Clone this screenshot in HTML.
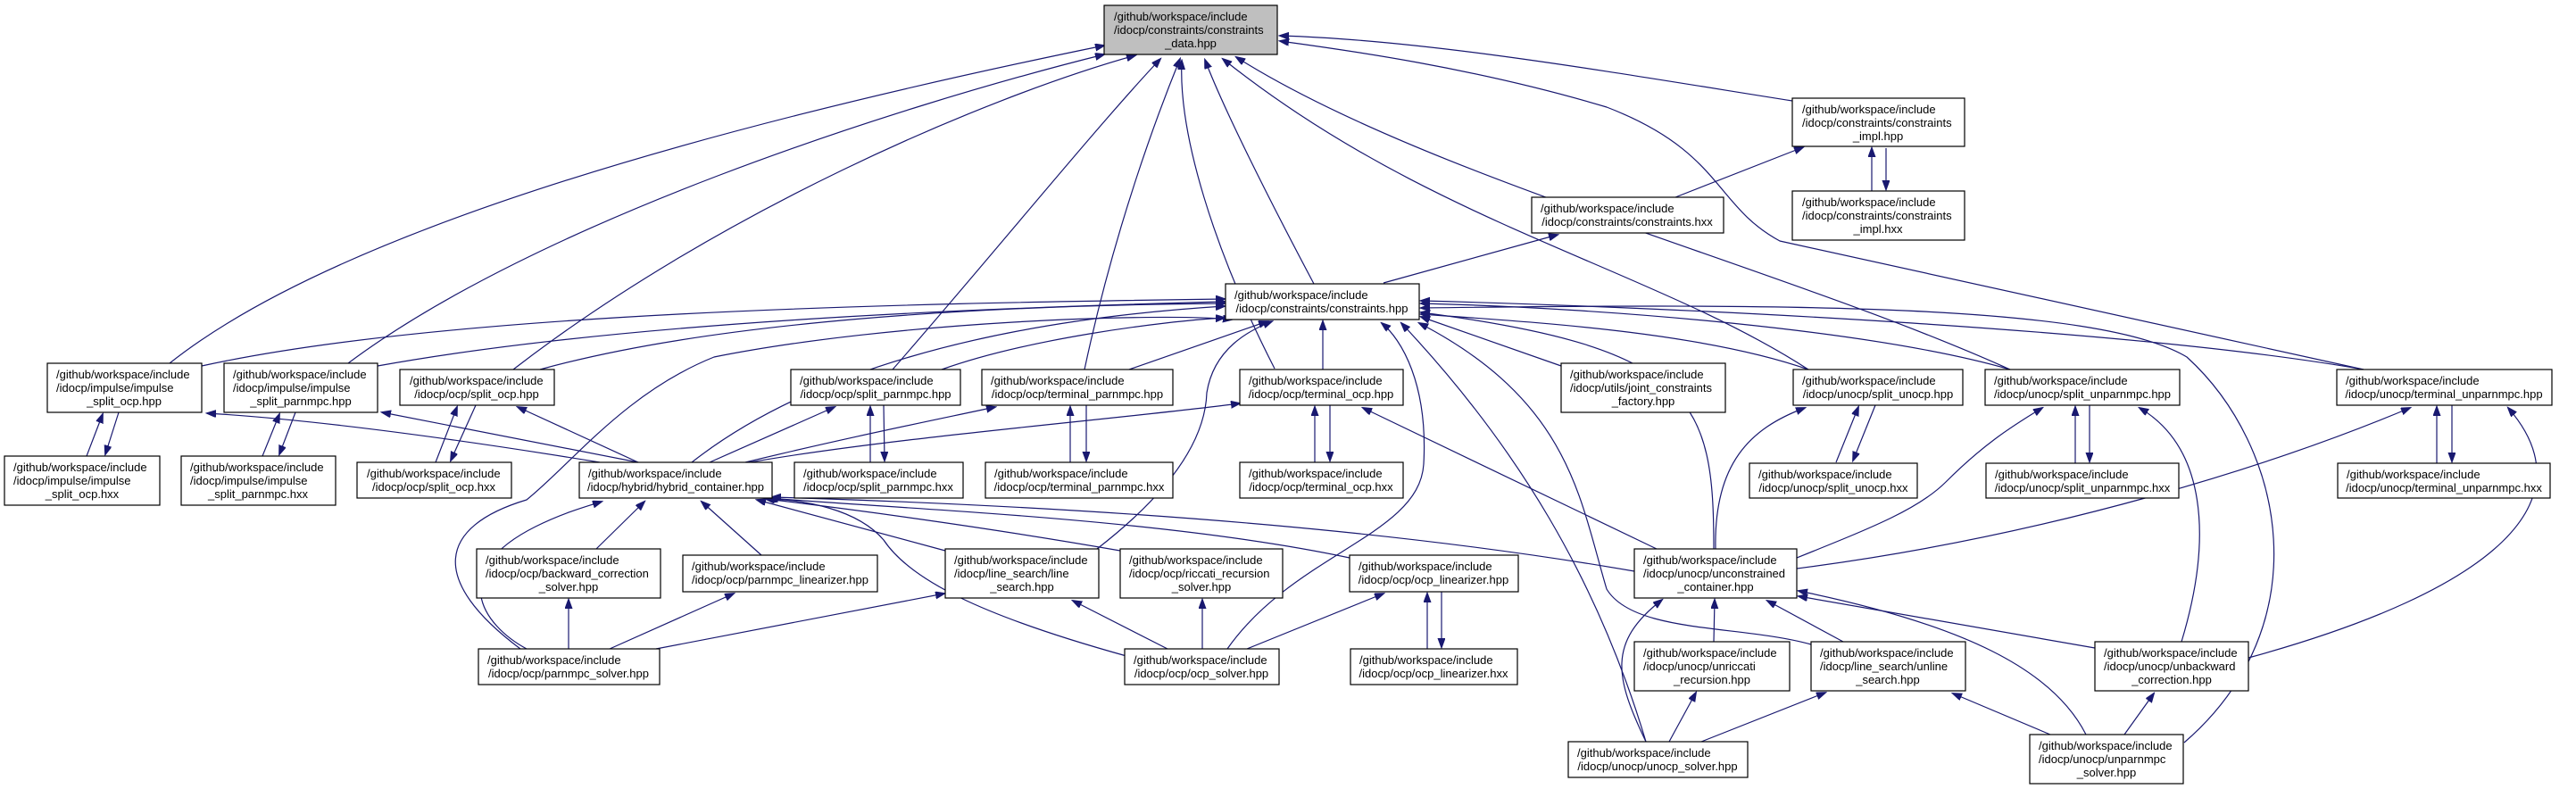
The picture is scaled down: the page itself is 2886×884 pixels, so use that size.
<!DOCTYPE html>
<html><head><meta charset="utf-8"><style>
html,body{margin:0;padding:0;background:#fff;}
svg{display:block;}
text{font-family:"Liberation Sans",Arial,sans-serif;font-size:13px;fill:#000;}
.e{fill:none;stroke:#191970;stroke-width:1.2;marker-end:url(#a);}
.n{fill:#fff;stroke:#000;stroke-width:1.2;}
</style></head><body>
<svg width="2886" height="884" viewBox="0 0 2886 884" xmlns="http://www.w3.org/2000/svg">
<defs><marker id="a" markerUnits="userSpaceOnUse" markerWidth="12" markerHeight="10" refX="10" refY="4" orient="auto"><path d="M0,0 L11,4 L0,8 z" fill="#191970" stroke="#191970"/></marker></defs>
<g>
<path class="e" d="M190,407 C400,240 900,120 1237,51"/>
<path class="e" d="M390,407 C600,250 1000,120 1237,61"/>
<path class="e" d="M575,414 C800,240 1100,110 1272,62"/>
<path class="e" d="M1000,414 C1100,300 1230,140 1300,66"/>
<path class="e" d="M1215,414 C1250,250 1300,120 1322,66"/>
<path class="e" d="M1428,413 C1360,280 1320,150 1324,68"/>
<path class="e" d="M1472,318 C1420,220 1370,120 1350,67"/>
<path class="e" d="M2026,414 C1850,300 1600,250 1370,66"/>
<path class="e" d="M2252,414 C2000,300 1600,200 1385,64"/>
<path class="e" d="M2648,414 L1994,270 C1920,230 1930,170 1800,120 C1650,75 1500,55 1434,46"/>
<path class="e" d="M2008,113 C1800,80 1600,45 1434,40"/>
<path class="e" d="M1550,317 L1745,263"/>
<path class="e" d="M1877,221 L2020,165"/>
<path class="e" d="M2097,214 L2097,166"/>
<path class="e" d="M2113,166 L2113,212"/>
<path class="e" d="M226,410 C500,350 1000,340 1372,335"/>
<path class="e" d="M423,410 C700,360 1100,345 1372,338"/>
<path class="e" d="M605,414 C800,360 1100,342 1372,340"/>
<path class="e" d="M1055,414 C1150,380 1300,360 1372,356"/>
<path class="e" d="M1265,414 L1420,360"/>
<path class="e" d="M775,518 C900,420 1100,360 1372,343"/>
<path class="e" d="M1482,414 L1482,360"/>
<path class="e" d="M583,727 C480,650 490,590 590,560 C640,520 700,440 800,400 C1000,360 1300,350 1380,358"/>
<path class="e" d="M1229,615 C1300,560 1350,500 1352,440 C1360,390 1400,370 1425,360"/>
<path class="e" d="M1375,727 C1450,620 1590,600 1595,520 C1600,430 1570,380 1548,362"/>
<path class="e" d="M1844,831 C1790,650 1700,500 1570,362"/>
<path class="e" d="M2029,722 C1950,700 1830,710 1800,660 C1770,560 1760,450 1590,362"/>
<path class="e" d="M2447,832 C2600,700 2560,500 2450,400 C2350,340 2000,340 1592,345"/>
<path class="e" d="M1749,410 L1592,355"/>
<path class="e" d="M2026,414 C1900,370 1700,360 1592,352"/>
<path class="e" d="M2252,414 C2100,370 1800,345 1592,340"/>
<path class="e" d="M2648,414 C2400,370 1900,345 1592,337"/>
<path class="e" d="M1920,615 C1920,450 1900,390 1592,350"/>
<path class="e" d="M668,615 L722,562"/>
<path class="e" d="M853,622 L786,562"/>
<path class="e" d="M590,727 C540,700 500,640 600,590 C630,575 655,568 674,562"/>
<path class="e" d="M1059,617 L848,560"/>
<path class="e" d="M1255,617 C1100,590 950,570 858,559"/>
<path class="e" d="M1512,625 C1300,580 1000,570 862,558"/>
<path class="e" d="M1831,640 C1600,600 1300,570 865,557"/>
<path class="e" d="M1262,735 C1100,690 1020,650 990,605 C960,570 900,560 860,559"/>
<path class="e" d="M672,518 C500,490 350,470 232,463"/>
<path class="e" d="M715,518 L428,462"/>
<path class="e" d="M715,518 L580,456"/>
<path class="e" d="M795,518 L935,456"/>
<path class="e" d="M835,518 C950,490 1050,470 1115,456"/>
<path class="e" d="M840,518 C1000,490 1250,470 1389,452"/>
<path class="e" d="M97,511 L115,464"/><path class="e" d="M133,462 L118,509"/>
<path class="e" d="M294,511 L313,464"/><path class="e" d="M331,462 L313,509"/>
<path class="e" d="M488,518 L512,456"/><path class="e" d="M533,454 L505,516"/>
<path class="e" d="M975,518 L975,456"/><path class="e" d="M990,454 L991,516"/>
<path class="e" d="M1199,518 L1199,456"/><path class="e" d="M1217,454 L1217,516"/>
<path class="e" d="M1473,518 L1473,456"/><path class="e" d="M1490,454 L1490,516"/>
<path class="e" d="M2057,518 L2082,456"/><path class="e" d="M2101,454 L2076,516"/>
<path class="e" d="M2325,519 L2325,456"/><path class="e" d="M2341,454 L2341,517"/>
<path class="e" d="M2730,519 L2730,456"/><path class="e" d="M2747,454 L2747,517"/>
<path class="e" d="M1599,727 L1599,665"/><path class="e" d="M1615,663 L1615,725"/>
<path class="e" d="M1922,615 C1920,520 1960,480 2022,457"/>
<path class="e" d="M2013,625 C2100,590 2150,570 2180,540 C2220,500 2250,480 2288,457"/>
<path class="e" d="M2013,637 C2300,600 2550,520 2700,457"/>
<path class="e" d="M1856,615 L1527,457"/>
<path class="e" d="M1920,719 L1921,672"/>
<path class="e" d="M2065,719 L1980,673"/>
<path class="e" d="M1844,831 C1810,760 1800,720 1862,672"/>
<path class="e" d="M2337,823 C2300,750 2200,700 2015,662"/>
<path class="e" d="M2347,726 L2015,668"/>
<path class="e" d="M1870,831 L1900,776"/>
<path class="e" d="M1906,831 L2045,776"/>
<path class="e" d="M2297,823 L2188,777"/>
<path class="e" d="M2380,823 L2413,777"/>
<path class="e" d="M2444,719 C2480,600 2470,500 2397,457"/>
<path class="e" d="M2519,737 C2800,660 2900,560 2810,457"/>
<path class="e" d="M1347,727 L1347,672"/>
<path class="e" d="M1397,727 L1550,665"/>
<path class="e" d="M1308,727 L1202,673"/>
<path class="e" d="M637,727 L637,672"/>
<path class="e" d="M683,727 L822,665"/>
<path class="e" d="M735,727 L1058,665"/>
</g>
<g>
<rect x="1237" y="6" width="194" height="55" style="fill:#bfbfbf;stroke:#000;stroke-width:1.2"/>
<text x="1248" y="23">/github/workspace/include</text><text x="1248" y="38">/idocp/constraints/constraints</text><text x="1334" y="53" text-anchor="middle">_data.hpp</text>

<rect class="n" x="2008" y="110" width="193" height="54"/>
<text x="2019" y="127">/github/workspace/include</text><text x="2019" y="142">/idocp/constraints/constraints</text><text x="2104" y="157" text-anchor="middle">_impl.hpp</text>

<rect class="n" x="2008" y="214" width="193" height="55"/>
<text x="2019" y="231">/github/workspace/include</text><text x="2019" y="246">/idocp/constraints/constraints</text><text x="2104" y="261" text-anchor="middle">_impl.hxx</text>

<rect class="n" x="1716" y="221" width="215" height="40"/>
<text x="1726" y="238">/github/workspace/include</text><text x="1823" y="253" text-anchor="middle">/idocp/constraints/constraints.hxx</text>

<rect class="n" x="1373" y="318" width="217" height="40"/>
<text x="1383" y="335">/github/workspace/include</text><text x="1481" y="350" text-anchor="middle">/idocp/constraints/constraints.hpp</text>

<rect class="n" x="53" y="407" width="173" height="55"/>
<text x="63" y="424">/github/workspace/include</text><text x="63" y="439">/idocp/impulse/impulse</text><text x="139" y="454" text-anchor="middle">_split_ocp.hpp</text>

<rect class="n" x="251" y="407" width="172" height="55"/>
<text x="261" y="424">/github/workspace/include</text><text x="261" y="439">/idocp/impulse/impulse</text><text x="337" y="454" text-anchor="middle">_split_parnmpc.hpp</text>

<rect class="n" x="448" y="414" width="173" height="40"/>
<text x="459" y="431">/github/workspace/include</text><text x="534" y="446" text-anchor="middle">/idocp/ocp/split_ocp.hpp</text>

<rect class="n" x="886" y="414" width="190" height="40"/>
<text x="896" y="431">/github/workspace/include</text><text x="981" y="446" text-anchor="middle">/idocp/ocp/split_parnmpc.hpp</text>

<rect class="n" x="1100" y="414" width="214" height="40"/>
<text x="1110" y="431">/github/workspace/include</text><text x="1207" y="446" text-anchor="middle">/idocp/ocp/terminal_parnmpc.hpp</text>

<rect class="n" x="1389" y="414" width="183" height="40"/>
<text x="1399" y="431">/github/workspace/include</text><text x="1480" y="446" text-anchor="middle">/idocp/ocp/terminal_ocp.hpp</text>

<rect class="n" x="1749" y="407" width="184" height="55"/>
<text x="1759" y="424">/github/workspace/include</text><text x="1759" y="439">/idocp/utils/joint_constraints</text><text x="1841" y="454" text-anchor="middle">_factory.hpp</text>

<rect class="n" x="2009" y="414" width="190" height="40"/>
<text x="2019" y="431">/github/workspace/include</text><text x="2104" y="446" text-anchor="middle">/idocp/unocp/split_unocp.hpp</text>

<rect class="n" x="2224" y="414" width="218" height="40"/>
<text x="2234" y="431">/github/workspace/include</text><text x="2333" y="446" text-anchor="middle">/idocp/unocp/split_unparnmpc.hpp</text>

<rect class="n" x="2618" y="414" width="241" height="40"/>
<text x="2628" y="431">/github/workspace/include</text><text x="2738" y="446" text-anchor="middle">/idocp/unocp/terminal_unparnmpc.hpp</text>

<rect class="n" x="5" y="511" width="174" height="55"/>
<text x="15" y="528">/github/workspace/include</text><text x="15" y="543">/idocp/impulse/impulse</text><text x="92" y="558" text-anchor="middle">_split_ocp.hxx</text>

<rect class="n" x="203" y="511" width="173" height="55"/>
<text x="213" y="528">/github/workspace/include</text><text x="213" y="543">/idocp/impulse/impulse</text><text x="289" y="558" text-anchor="middle">_split_parnmpc.hxx</text>

<rect class="n" x="400" y="518" width="173" height="40"/>
<text x="411" y="535">/github/workspace/include</text><text x="486" y="550" text-anchor="middle">/idocp/ocp/split_ocp.hxx</text>

<rect class="n" x="649" y="518" width="216" height="40"/>
<text x="659" y="535">/github/workspace/include</text><text x="757" y="550" text-anchor="middle">/idocp/hybrid/hybrid_container.hpp</text>

<rect class="n" x="890" y="518" width="189" height="40"/>
<text x="900" y="535">/github/workspace/include</text><text x="984" y="550" text-anchor="middle">/idocp/ocp/split_parnmpc.hxx</text>

<rect class="n" x="1104" y="518" width="210" height="40"/>
<text x="1114" y="535">/github/workspace/include</text><text x="1209" y="550" text-anchor="middle">/idocp/ocp/terminal_parnmpc.hxx</text>

<rect class="n" x="1389" y="518" width="183" height="40"/>
<text x="1399" y="535">/github/workspace/include</text><text x="1480" y="550" text-anchor="middle">/idocp/ocp/terminal_ocp.hxx</text>

<rect class="n" x="1960" y="519" width="188" height="39"/>
<text x="1970" y="536">/github/workspace/include</text><text x="2054" y="551" text-anchor="middle">/idocp/unocp/split_unocp.hxx</text>

<rect class="n" x="2225" y="519" width="216" height="39"/>
<text x="2235" y="536">/github/workspace/include</text><text x="2333" y="551" text-anchor="middle">/idocp/unocp/split_unparnmpc.hxx</text>

<rect class="n" x="2619" y="519" width="238" height="39"/>
<text x="2629" y="536">/github/workspace/include</text><text x="2738" y="551" text-anchor="middle">/idocp/unocp/terminal_unparnmpc.hxx</text>

<rect class="n" x="534" y="615" width="206" height="55"/>
<text x="544" y="632">/github/workspace/include</text><text x="544" y="647">/idocp/ocp/backward_correction</text><text x="637" y="662" text-anchor="middle">_solver.hpp</text>

<rect class="n" x="765" y="622" width="218" height="41"/>
<text x="775" y="639">/github/workspace/include</text><text x="874" y="654" text-anchor="middle">/idocp/ocp/parnmpc_linearizer.hpp</text>

<rect class="n" x="1059" y="615" width="172" height="55"/>
<text x="1069" y="632">/github/workspace/include</text><text x="1069" y="647">/idocp/line_search/line</text><text x="1145" y="662" text-anchor="middle">_search.hpp</text>

<rect class="n" x="1255" y="615" width="182" height="55"/>
<text x="1265" y="632">/github/workspace/include</text><text x="1265" y="647">/idocp/ocp/riccati_recursion</text><text x="1346" y="662" text-anchor="middle">_solver.hpp</text>

<rect class="n" x="1512" y="622" width="189" height="41"/>
<text x="1522" y="639">/github/workspace/include</text><text x="1606" y="654" text-anchor="middle">/idocp/ocp/ocp_linearizer.hpp</text>

<rect class="n" x="1831" y="615" width="182" height="55"/>
<text x="1841" y="632">/github/workspace/include</text><text x="1841" y="647">/idocp/unocp/unconstrained</text><text x="1922" y="662" text-anchor="middle">_container.hpp</text>

<rect class="n" x="536" y="727" width="203" height="40"/>
<text x="546" y="744">/github/workspace/include</text><text x="637" y="759" text-anchor="middle">/idocp/ocp/parnmpc_solver.hpp</text>

<rect class="n" x="1260" y="727" width="173" height="40"/>
<text x="1270" y="744">/github/workspace/include</text><text x="1346" y="759" text-anchor="middle">/idocp/ocp/ocp_solver.hpp</text>

<rect class="n" x="1513" y="727" width="187" height="40"/>
<text x="1523" y="744">/github/workspace/include</text><text x="1606" y="759" text-anchor="middle">/idocp/ocp/ocp_linearizer.hxx</text>

<rect class="n" x="1831" y="719" width="174" height="55"/>
<text x="1841" y="736">/github/workspace/include</text><text x="1841" y="751">/idocp/unocp/unriccati</text><text x="1918" y="766" text-anchor="middle">_recursion.hpp</text>

<rect class="n" x="2029" y="719" width="173" height="55"/>
<text x="2039" y="736">/github/workspace/include</text><text x="2039" y="751">/idocp/line_search/unline</text><text x="2115" y="766" text-anchor="middle">_search.hpp</text>

<rect class="n" x="2347" y="719" width="172" height="55"/>
<text x="2357" y="736">/github/workspace/include</text><text x="2357" y="751">/idocp/unocp/unbackward</text><text x="2433" y="766" text-anchor="middle">_correction.hpp</text>

<rect class="n" x="1757" y="831" width="201" height="40"/>
<text x="1767" y="848">/github/workspace/include</text><text x="1857" y="863" text-anchor="middle">/idocp/unocp/unocp_solver.hpp</text>

<rect class="n" x="2274" y="823" width="172" height="55"/>
<text x="2284" y="840">/github/workspace/include</text><text x="2284" y="855">/idocp/unocp/unparnmpc</text><text x="2360" y="870" text-anchor="middle">_solver.hpp</text>
</g>
</svg>
</body></html>
